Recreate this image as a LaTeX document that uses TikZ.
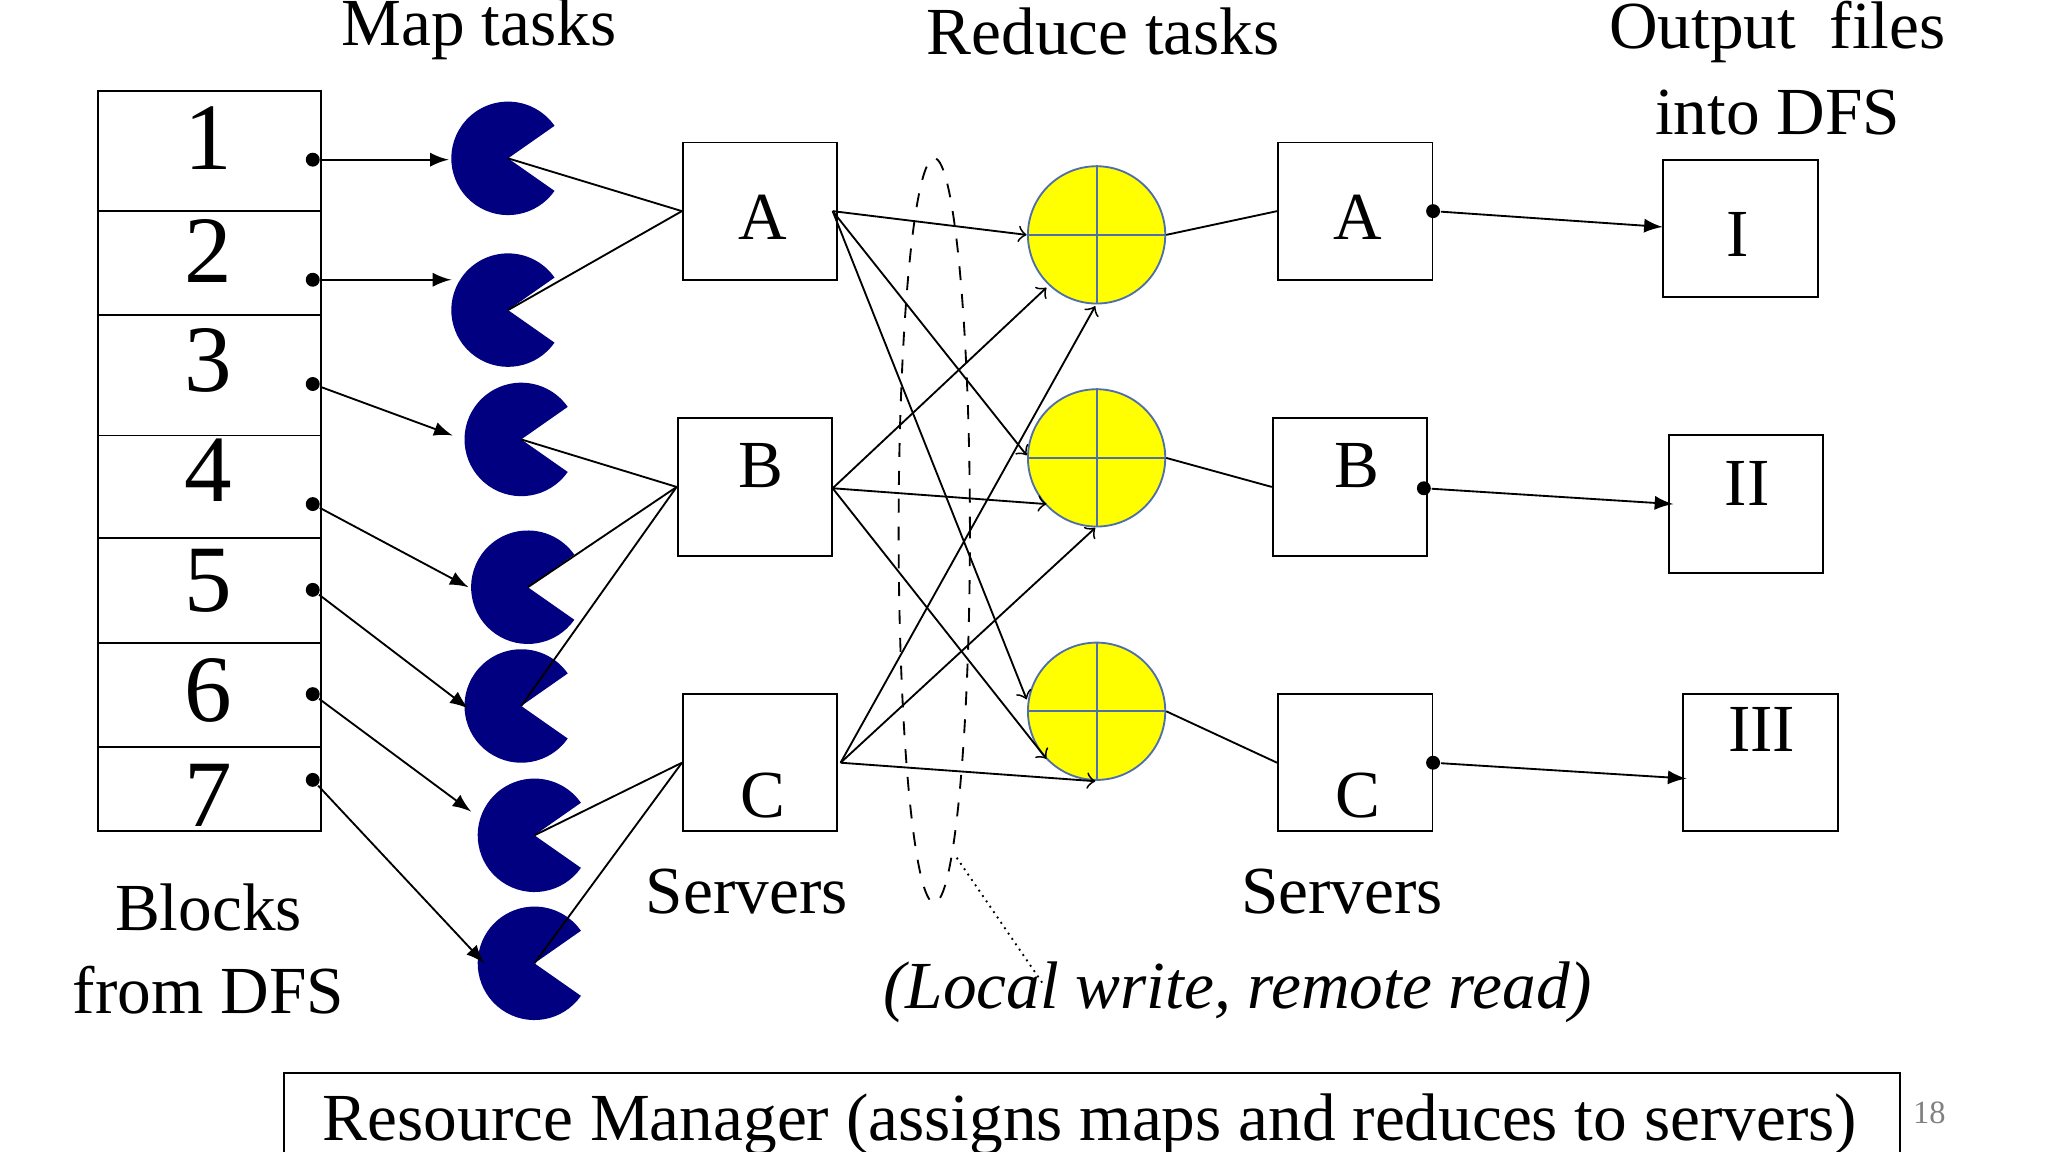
\documentclass[tikz,border=0pt]{standalone}
\usepackage{fontspec}
\setmainfont{Liberation Serif}
\usetikzlibrary{arrows}
\definecolor{pacblue}{RGB}{0,0,128}
\definecolor{ryellow}{RGB}{255,255,0}
\definecolor{redge}{RGB}{80,110,170}
\tikzset{
  srv/.style={draw, minimum width=1.17cm, minimum height=1.04cm, inner sep=0pt},
  lbl/.style={font=\fontsize{14.5}{17}\selectfont},
  blk/.style={font=\fontsize{20.5}{24}\selectfont},
  dot/.style={circle, fill, inner sep=0pt, minimum size=3pt}
}
\begin{document}
\begin{tikzpicture}[x=0.01cm,y=-0.01cm]
  \useasboundingbox (0,0) rectangle (1552,873);
  \clip (0,0) rectangle (1552,873);
  % blocks from DFS
  \draw (74,69) rectangle (243,630);
  \foreach \y in {160,239,330,408,487,566} \draw (74,\y) -- (243,\y);
  \foreach \n/\y in {1/105,2/190,3/273,4/356,5/440,6/523,7/603}
    \node[blk] (b\n) at (158,\y) {\n};
  \foreach \n/\y in {1/121,2/212,3/291,4/382,5/447,6/526,7/591}
    \node[dot] (d\n) at (237,\y) {};
  % map tasks
  \foreach \n/\x/\y in {1/385/120,2/385/235,3/395/333,4/400/445,5/395/535,6/405/633,7/405/730}{
    \coordinate (p\n) at (\x,\y);
    \fill[pacblue] (p\n) -- ++(35:43) arc (35:325:43) -- cycle;
  }
  \foreach \n/\x/\y in {1/340/121,2/342/212,3/343/330,4/355/445,5/355/537,6/357/615,7/367/730}{
    \coordinate (m\n) at (\x,\y);
    \draw[-latex] (d\n) -- (m\n);
  }
  % servers
  \node[srv] (sA) at (576,160) {};
  \node[srv] (sB) at (572,369) {};
  \node[srv] (sC) at (576,578) {};
  \node[lbl] at (578,165) {A};
  \node[lbl] at (577,353) {B};
  \node[lbl] at (578,603) {C};
  \foreach \p/\s in {1/sA,2/sA,3/sB,4/sB,5/sB,6/sC,7/sC}
    \draw (p\p) -- (\s.west);
  % reduce tasks
  \foreach \n/\y in {1/178,2/347,3/539}{
    \node[circle, draw=redge, fill=ryellow, minimum size=1.04cm, inner sep=0pt] (r\n) at (831,\y) {};
    \draw[redge] (r\n.north) -- (r\n.south) (r\n.west) -- (r\n.east);
  }
  \coordinate (a1) at (778,178); \coordinate (a2) at (778,345); \coordinate (a3) at (778,530);
  \coordinate (bb1) at (793,218); \coordinate (bb2) at (793,382); \coordinate (bb3) at (793,575);
  \coordinate (c1) at (830,232); \coordinate (c2) at (830,400); \coordinate (c3) at (830,592);
  \coordinate (oA) at (631,160); \coordinate (oB) at (631,370); \coordinate (oC) at (637,578);
  \foreach \n in {1,2,3}{
    \draw[->] (oA) -- (a\n);
    \draw[->] (oB) -- (bb\n);
    \draw[->] (oC) -- (c\n);
  }
  \draw[dashed] (708,402) ellipse (0.27cm and 2.82cm);
  \coordinate (e) at (725,650);
  \coordinate (lw) at (790,745);
  \draw[densely dotted] (e) -- (lw);
  % output servers
  \node[srv] (tA) at (1027,160) {};
  \node[srv] (tB) at (1023,369) {};
  \node[srv] (tC) at (1027,578) {};
  \node[lbl] at (1029,165) {A};
  \node[lbl] at (1028,353) {B};
  \node[lbl] at (1029,603) {C};
  \draw (r1.east) -- (tA.west);
  \draw (r2.east) -- (tB.west);
  \draw (r3.east) -- (tC.west);
  % output files
  \node[srv] (f1) at (1319,173) {};
  \node[srv] (f2) at (1323,382) {};
  \node[srv] (f3) at (1334,578) {};
  \node[lbl] at (1317,178) {I};
  \node[lbl] at (1324,366) {II};
  \node[lbl] at (1335,553) {III};
  \node[dot] (q1) at (1086,160) {};
  \node[dot] (q2) at (1079,370) {};
  \node[dot] (q3) at (1086,578) {};
  \draw[-latex] (q1) -- (1260,172);
  \draw[-latex] (q2) -- (1268,382);
  \draw[-latex] (q3) -- (1278,590);
  % labels
  \node[lbl] at (363,22) {Map tasks};
  \node[lbl] at (836,24) {Reduce tasks};
  \node[lbl] at (1347,24) {Output~~files};
  \node[lbl] at (1347,85) {into DFS};
  \node[lbl] at (158,688) {Blocks};
  \node[lbl] at (158,750) {from DFS};
  \node[lbl] at (566,676) {Servers};
  \node[lbl] at (1017,676) {Servers};
  \node[lbl, font=\fontsize{14.5}{17}\selectfont\itshape] at (938,752) {(Local write, remote read)};
  \draw (215,813) rectangle (1440,900);
  \node[lbl] (rm) at (826,852) {Resource Manager (assigns maps and reduces to servers)};
  \node[gray, font=\fontsize{7}{8}\selectfont] at (1462,843) {18};
\end{tikzpicture}
\end{document}
